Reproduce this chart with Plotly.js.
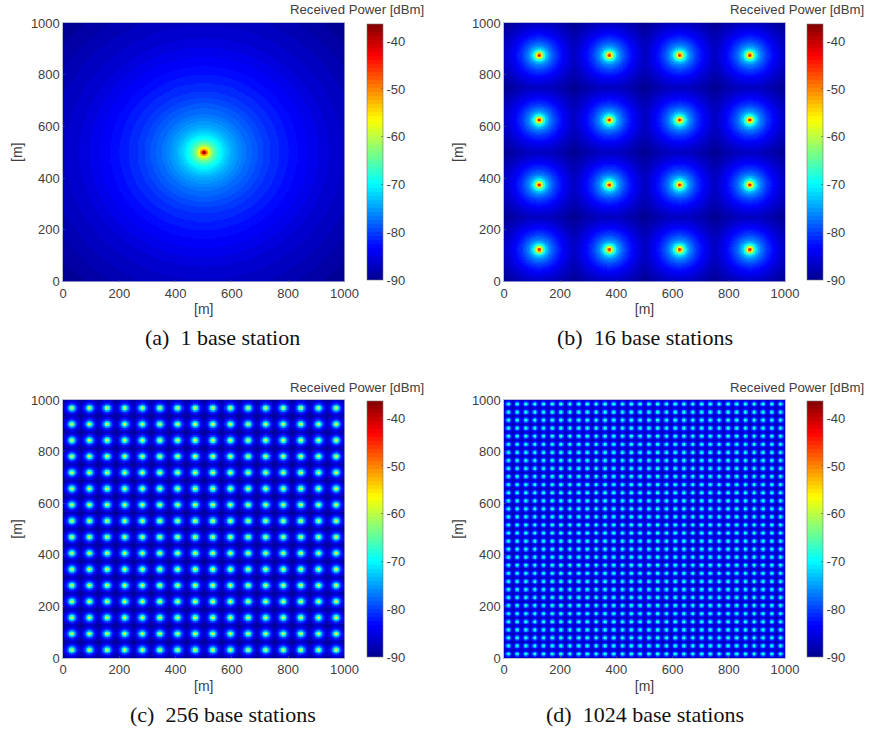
<!DOCTYPE html>
<html>
<head>
<meta charset="utf-8">
<script src="https://cdn.plot.ly/plotly-3.0.1.min.js"></script>
<style>html,body{margin:0;padding:0;background:#fff}#chart{width:869px;height:731px}</style>
</head>
<body>
<div id="chart"></div>
<script>
// NOTE: cell values are not individually read from the picture. They are derived
// from the readings below: each cell uses the strongest (nearest) station's value
// from its panel's distance/power profile, looked up between readings.
const captions = ['(a)  1 base station', '(b)  16 base stations', '(c)  256 base stations', '(d)  1024 base stations'];
const colorbarTitle = 'Received Power [dBm]';
const axisTitle = '[m]';
const axisTicks = [0, 200, 400, 600, 800, 1000];
const powerTicks = [-40, -50, -60, -70, -80, -90];
const powerTickLabels = ['-40', '-50', '-60', '-70', '-80', '-90'];
const powerMin = -90;
const powerMax = -36.4;

// Station coordinates along each axis, per panel (metres)
const stationsA = [500];
const stationsB = [125, 375, 625, 875];
const stationsC = [31.25, 93.75, 156.25, 218.75, 281.25, 343.75, 406.25, 468.75, 531.25, 593.75, 656.25, 718.75, 781.25, 843.75, 906.25, 968.75];
const stationsD = [15.6, 46.9, 78.1, 109.4, 140.6, 171.9, 203.1, 234.4, 265.6, 296.9, 328.1, 359.4, 390.6, 421.9, 453.1, 484.4, 515.6, 546.9, 578.1, 609.4, 640.6, 671.9, 703.1, 734.4, 765.6, 796.9, 828.1, 859.4, 890.6, 921.9, 953.1, 984.4];

// Power versus distance from the nearest station
const distanceA = [0, 4, 6, 9, 13, 18, 25, 35, 50, 70, 100, 150, 225, 320, 450, 640, 710];
const powerA = [-36.5, -38, -42, -48, -53, -57, -61, -65, -68.5, -71.5, -74.5, -77.5, -80.5, -83, -86, -89, -90];
const distanceB = [0, 3, 6, 9.5, 15, 26, 40, 60, 90, 125, 177];
const powerB = [-43, -45, -50, -57, -65, -73, -77, -80.5, -84, -87, -90];
const distanceC = [0, 3, 6, 10, 15, 20, 26, 31, 37, 44];
const powerC = [-57, -60, -66, -73, -79, -82, -85, -87, -88.5, -90];
const distanceD = [0, 2, 4, 7, 10, 13, 15.6, 19, 22];
const powerD = [-66, -68, -71, -76, -81, -84, -85.5, -87, -89];

// Jet colour anchors
const jetPositions = [0, 0.125, 0.375, 0.625, 0.875, 1];
const jetColors = [[0, 0, 143], [0, 0, 255], [0, 255, 255], [255, 255, 0], [255, 0, 0], [128, 0, 0]];
const colorLevels = 64;

function jetAt(t) {
  let i = 0;
  while (i < jetPositions.length - 2 && t > jetPositions[i + 1]) i++;
  const f = (t - jetPositions[i]) / (jetPositions[i + 1] - jetPositions[i]);
  const c = jetColors[i].map((v, k) => Math.round(v + (jetColors[i + 1][k] - v) * f));
  return 'rgb(' + c.join(',') + ')';
}
const colorscale = [];
for (let i = 0; i < colorLevels; i++) {
  const col = jetAt((i + 0.5) / colorLevels);
  colorscale.push([i / colorLevels, col], [(i + 1) / colorLevels, col]);
}

function profileAt(ds, ps, d) {
  let i = 0;
  while (i < ds.length - 2 && d > ds[i + 1]) i++;
  const f = (d - ds[i]) / (ds[i + 1] - ds[i]);
  return ps[i] + (ps[i + 1] - ps[i]) * Math.min(f, 1);
}
function nearest(list, v) {
  let best = Infinity;
  for (const s of list) best = Math.min(best, Math.abs(s - v));
  return best;
}

const gridSize = 400;
const gridAxis = [];
for (let i = 0; i < gridSize; i++) gridAxis.push((i + 0.5) * 1000 / gridSize);

function field(stations, ds, ps) {
  const dist = gridAxis.map(v => nearest(stations, v));
  return dist.map(dy => dist.map(dx => profileAt(ds, ps, Math.hypot(dx, dy))));
}

const W = 869, H = 731;
const panels = [
  {st: stationsA, ds: distanceA, ps: powerA, x0: 63, x1: 344.5, y0: 23, y1: 281.5, cbx: 367, cby: 152, capx: 222.5, capy: 337},
  {st: stationsB, ds: distanceB, ps: powerB, x0: 504, x1: 785, y0: 23, y1: 281.5, cbx: 807, cby: 152, capx: 645, capy: 337},
  {st: stationsC, ds: distanceC, ps: powerC, x0: 63, x1: 344.5, y0: 400, y1: 658, cbx: 367, cby: 529, capx: 222.5, capy: 714},
  {st: stationsD, ds: distanceD, ps: powerD, x0: 504, x1: 785, y0: 400, y1: 658, cbx: 807, cby: 529, capx: 645, capy: 714}
];

const tickFont = {family: 'Liberation Sans, Arial, sans-serif', size: 13, color: '#404040'};
const titleFont = {family: 'Liberation Sans, Arial, sans-serif', size: 14, color: '#404040'};
const cbTitleFont = {family: 'Liberation Sans, Arial, sans-serif', size: 13.2, color: '#404040'};
const data = [];
const layout = {
  width: W, height: H, margin: {l: 0, r: 0, t: 0, b: 0},
  paper_bgcolor: '#fff', plot_bgcolor: '#fff', showlegend: false, annotations: []
};

panels.forEach((p, i) => {
  const suf = i === 0 ? '' : String(i + 1);
  data.push({
    type: 'heatmap', x: gridAxis, y: gridAxis, z: field(p.st, p.ds, p.ps),
    xaxis: 'x' + suf, yaxis: 'y' + suf,
    zmin: powerMin, zmax: powerMax, zsmooth: false, colorscale: colorscale,
    hoverinfo: 'skip',
    colorbar: {
      x: p.cbx / W, xanchor: 'left', xpad: 0, ypad: 0,
      y: 1 - p.cby / H, yanchor: 'middle',
      lenmode: 'pixels', len: 256, thicknessmode: 'pixels', thickness: 16,
      tickmode: 'array', tickvals: powerTicks, ticktext: powerTickLabels,
      tickfont: tickFont, ticks: 'inside', ticklen: 2, tickcolor: '#555', tickwidth: 0.6,
      outlinecolor: '#777', outlinewidth: 0.6
    }
  });
  const axisBase = {
    range: [0, 1000], tickmode: 'array', tickvals: axisTicks, ticks: 'inside', ticklen: 2,
    tickcolor: '#555', tickwidth: 0.6, showgrid: false, zeroline: false,
    showline: true, mirror: true, linecolor: '#8a93b8', linewidth: 0.6, tickfont: tickFont
  };
  layout['xaxis' + suf] = Object.assign({}, axisBase, {
    domain: [p.x0 / W, p.x1 / W], anchor: 'y' + suf,
    title: {text: axisTitle, font: titleFont, standoff: 4}
  });
  layout['yaxis' + suf] = Object.assign({}, axisBase, {
    domain: [1 - p.y1 / H, 1 - p.y0 / H], anchor: 'x' + suf,
    title: {text: axisTitle, font: titleFont, standoff: 4}
  });
  layout.annotations.push({
    xref: 'paper', yref: 'paper', x: (p.cbx + 58.5) / W, y: 1 - (p.y0 - 13) / H,
    text: colorbarTitle, showarrow: false, xanchor: 'right', yanchor: 'middle', font: cbTitleFont
  });
  layout.annotations.push({
    xref: 'paper', yref: 'paper', x: p.capx / W, y: 1 - p.capy / H,
    text: captions[i], showarrow: false, xanchor: 'center', yanchor: 'middle',
    font: {family: 'Liberation Serif, Times New Roman, serif', size: 22, color: '#111'}
  });
});

Plotly.newPlot('chart', data, layout, {displayModeBar: false, staticPlot: true});
</script>
</body>
</html>
